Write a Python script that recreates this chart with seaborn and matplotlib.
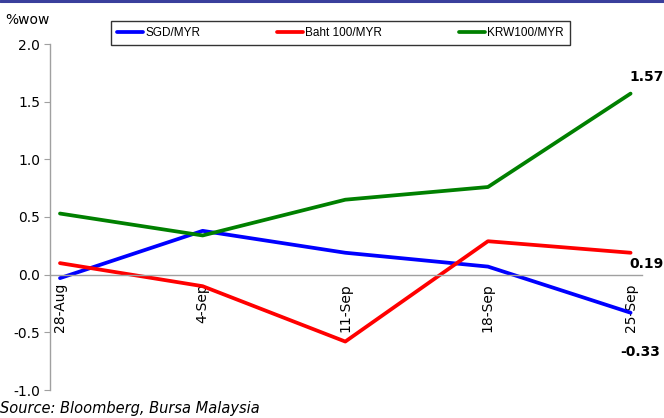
import matplotlib
matplotlib.use("Agg")
import matplotlib.pyplot as plt
import seaborn as sns
import pandas as pd
from matplotlib.lines import Line2D

sns.set_theme(style="white")
plt.rcParams["font.family"] = ["DejaVu Sans"]
plt.rcParams["text.color"] = "black"
plt.rcParams["xtick.color"] = "black"
plt.rcParams["ytick.color"] = "black"

weeks = ["28-Aug", "4-Sep", "11-Sep", "18-Sep", "25-Sep"]
sgd = [-0.03, 0.38, 0.19, 0.07, -0.33]
baht = [0.10, -0.10, -0.58, 0.29, 0.19]
krw = [0.53, 0.34, 0.65, 0.76, 1.57]
series_names = ["SGD/MYR", "Baht100/MYR", "KRW100/MYR"]
legend_labels = ["SGD/MYR", "Baht 100/MYR", "KRW100/MYR"]
colors = ["#0000FF", "#FF0000", "#008000"]

rows = []
for name, vals in zip(series_names, [sgd, baht, krw]):
    for i, v in enumerate(vals):
        rows.append({"pos": i, "week": weeks[i], "series": name, "value": v})
df = pd.DataFrame(rows)

fig = plt.figure(figsize=(6.64, 4.18), dpi=100)
ax = fig.add_axes([50 / 664, 1 - 390 / 418, (642 - 50) / 664, (390 - 44) / 418])

sns.lineplot(data=df, x="pos", y="value", hue="series", palette=colors,
             hue_order=series_names, linewidth=2.7, legend=False, ax=ax)

ax.set_xlim(-0.07, 4.08)
ax.set_ylim(-1.0, 2.0)
yt = [-1.0, -0.5, 0.0, 0.5, 1.0, 1.5, 2.0]
ax.set_yticks(yt)
ax.set_yticklabels([f"{t:.1f}" for t in yt], fontsize=10, color="black")
ax.set_xlabel("")
ax.set_ylabel("")

for side in ["top", "right"]:
    ax.spines[side].set_visible(False)
ax.spines["left"].set_color("#a0a0a0")
ax.spines["left"].set_linewidth(1.0)
ax.spines["bottom"].set_position(("data", 0))
ax.spines["bottom"].set_color("#a0a0a0")
ax.spines["bottom"].set_linewidth(1.0)

ax.tick_params(axis="y", which="both", left=True, length=4, width=0.8,
               color="#a0a0a0", pad=3, labelcolor="black")

# category labels centred on points, boundary ticks slightly left of each point
ax.set_xticks(range(len(weeks)))
ax.set_xticklabels(weeks, rotation=90, fontsize=10, va="top", color="black")
ax.tick_params(axis="x", which="major", length=0, pad=6)
ax.set_xticks([i - 0.07 for i in range(1, len(weeks))], minor=True)
ax.tick_params(axis="x", which="minor", direction="in", length=4, width=0.8,
               color="#a0a0a0")

# end-value annotations
ax.text(3.99, krw[-1] + 0.14, f"{krw[-1]:.2f}", fontsize=10, fontweight="bold",
        ha="left", va="center", clip_on=False)
ax.text(3.995, baht[-1] - 0.10, f"{baht[-1]:.2f}", fontsize=10, fontweight="bold",
        ha="left", va="center", clip_on=False)
ax.text(3.93, sgd[-1] - 0.34, f"{sgd[-1]:.2f}", fontsize=10, fontweight="bold",
        ha="left", va="center", clip_on=False)

# legend
handles = [Line2D([0], [0], color=c, lw=2.7) for c in colors]
leg = fig.legend(handles, legend_labels, loc="upper left",
                 bbox_to_anchor=(105 / 664, 1 - 15 / 418), ncol=3,
                 frameon=True, fancybox=False, edgecolor="black",
                 prop={"family": "Liberation Sans", "size": 8.5},
                 handlelength=2.2, handletextpad=0.2, columnspacing=6.5,
                 borderpad=0.5)
leg.get_frame().set_linewidth(1.0)
for t in leg.get_texts():
    t.set_color("black")

fig.text(5 / 664, 1 - 20 / 418, "%wow", fontsize=10, ha="left", va="center")
fig.text(0, 1 - 408 / 418, "Source: Bloomberg, Bursa Malaysia", fontsize=10.5,
         style="italic", ha="left", va="center")

# header rule
fig.add_artist(Line2D([0, 1], [1 - 1 / 418, 1 - 1 / 418], color="#3a3f9c",
                      lw=2.2, transform=fig.transFigure))

fig.savefig("out.png", dpi=100)
